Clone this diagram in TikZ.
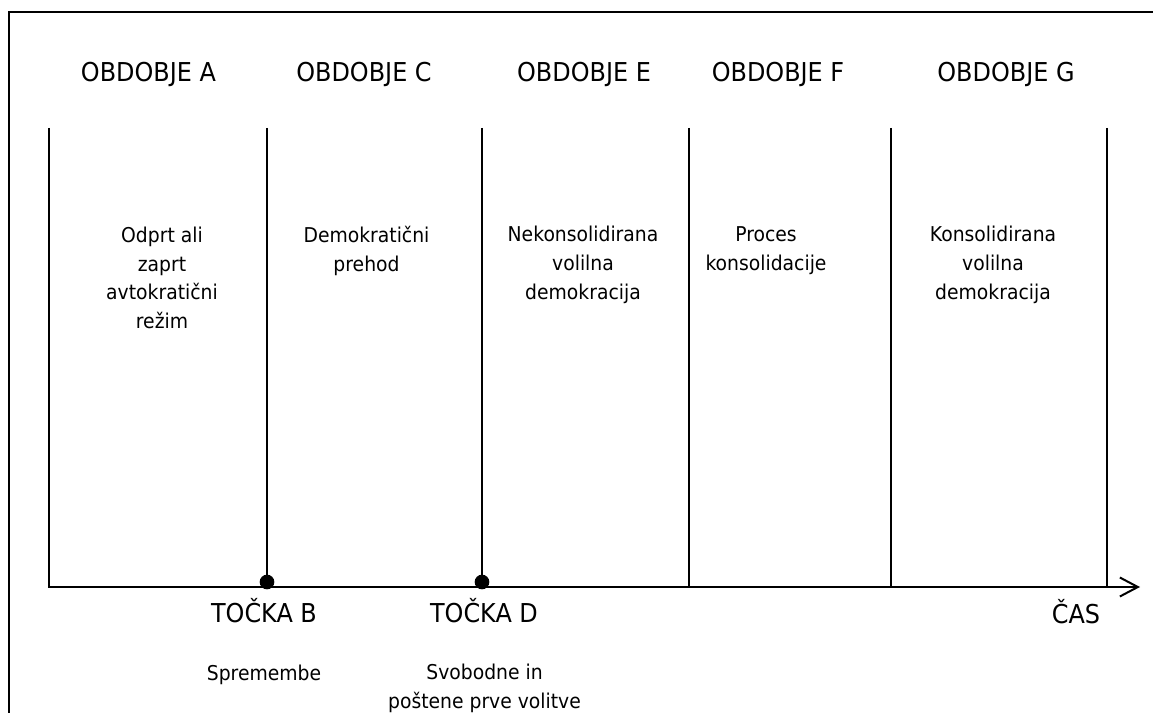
\documentclass[tikz,border=0pt]{standalone}
\usepackage{fontspec}
\setmainfont{DejaVu Sans}[FakeStretch=0.92]
\usetikzlibrary{arrows.meta}
\begin{document}
\begin{tikzpicture}[x=0.75pt,y=-0.75pt,
  head/.style={font=\fontsize{19.5}{24}\selectfont, inner sep=0pt, anchor=base},
  body/.style={font=\fontsize{15.3}{21.4}\selectfont, inner sep=0pt, align=center, anchor=base},
  divider/.style={line width=1.1pt},
  axisline/.style={line width=1.5pt},
  frameline/.style={line width=2pt},
  dot/.style={circle, fill=black, inner sep=0pt, minimum size=11pt}]
\useasboundingbox (0,0) rectangle (1153,713);
\clip (0,0) rectangle (1153,713);
% frame
\coordinate (fbl) at (9,730);
\coordinate (ftl) at (9,12);
\coordinate (ftr) at (1170,12);
\draw[frameline] (fbl) -- (ftl) -- (ftr);
% axis
\coordinate (ax0) at (48,587);
\coordinate (ax1) at (1140,587);
\draw[axisline, -{Straight Barb[length=13.5pt, width=14.25pt]}] (ax0) -- (ax1);
% dots
\node[dot] (pB) at (267,582) {};
\node[dot] (pD) at (482,582) {};
% dividers
\coordinate (t1) at (49,128);   \coordinate (b1) at (49,586);
\coordinate (t2) at (267,128);
\coordinate (t3) at (482,128);
\coordinate (t4) at (689,128);  \coordinate (b4) at (689,586);
\coordinate (t5) at (891,128);  \coordinate (b5) at (891,586);
\coordinate (t6) at (1107,128); \coordinate (b6) at (1107,586);
\draw[divider] (t1) -- (b1);
\draw[divider] (t2) -- (pB.center);
\draw[divider] (t3) -- (pD.center);
\draw[divider] (t4) -- (b4);
\draw[divider] (t5) -- (b5);
\draw[divider] (t6) -- (b6);
% headings
\node[head] (hA) at (148.5,82) {OBDOBJE A};
\node[head] (hC) at (364,82) {OBDOBJE C};
\node[head] (hE) at (584,82) {OBDOBJE E};
\node[head] (hF) at (778,82) {OBDOBJE F};
\node[head] (hG) at (1006,82) {OBDOBJE G};
% period descriptions (anchor = baseline of last line)
\node[body] (dA) at (162,328.5) {Odprt ali\\zaprt\\avtokratični\\režim};
\node[body] (dC) at (366.5,271.5) {Demokratični\\prehod};
\node[body] (dE) at (583,299) {Nekonsolidirana\\volilna\\demokracija};
\node[body] (dF) at (766,270.5) {Proces\\konsolidacije};
\node[body] (dG) at (993,299) {Konsolidirana\\volilna\\demokracija};
% points
\node[head] (lB) at (264,622) {TOČKA B};
\node[head] (lD) at (484,622) {TOČKA D};
\node[head] (lT) at (1076,623) {ČAS};
\node[body] (sB) at (264,680) {Spremembe};
\node[body] (sD) at (484.5,708.5) {Svobodne in\\poštene prve volitve};
\end{tikzpicture}
\end{document}
